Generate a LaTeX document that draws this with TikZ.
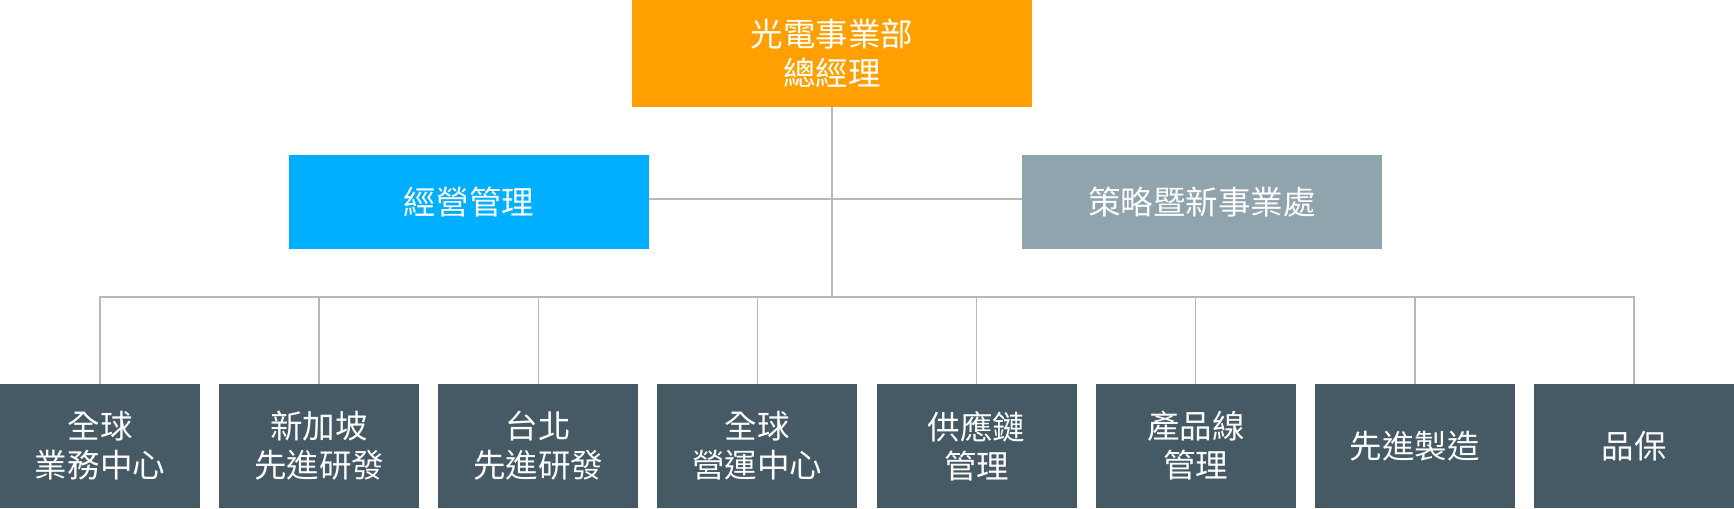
\documentclass[tikz,border=0pt]{standalone}
\usepackage{fontspec}
\newfontfamily\cjk{Noto Sans CJK TC}
\usepackage{xcolor}
\usepackage{tikz}
\usetikzlibrary{positioning, calc}
\definecolor{org-amber}{HTML}{FFA000}
\definecolor{org-blue}{HTML}{00B0FF}
\definecolor{org-grey}{HTML}{90A4AE}
\definecolor{org-slate}{HTML}{455A64}
\definecolor{org-line}{HTML}{B8B8B8}

\begin{document}
\begin{tikzpicture}[
    unit/.style={text=white, align=center, inner sep=0pt, outer sep=0pt, font=\cjk\fontsize{18.5}{22.2}\selectfont},
    head/.style={unit, fill=org-amber, minimum width=8cm, minimum height=2.14cm},
    staff/.style={unit, minimum width=7.2cm, minimum height=1.88cm},
    dept/.style={unit, fill=org-slate, minimum width=4cm, minimum height=2.48cm},
    link/.style={draw=org-line, line width=0.8pt}
]
    \useasboundingbox (0,0) rectangle (34.68,-10.16);

    \node (gm) [head] at (16.64,-1.07) {光電事業部\\總經理};
    \node (mgmt) [staff, fill=org-blue] at (9.38,-4.04) {經營管理};
    \node (strat) [staff, fill=org-grey] at (24.04,-4.04) {策略暨新事業處};

    \node (sales) [dept] at (2.0,-8.92) {全球\\業務中心};
    \node (sgrd) [dept, right=0.383cm of sales] {新加坡\\先進研發};
    \node (twrd) [dept, right=0.383cm of sgrd] {台北\\先進研發};
    \node (ops) [dept, right=0.383cm of twrd] {全球\\營運中心};
    \node (scm) [dept, right=0.383cm of ops] {供應鏈\\管理};
    \node (pline) [dept, right=0.383cm of scm] {產品線\\管理};
    \node (mfg) [dept, right=0.383cm of pline] {先進製造};
    \node (qa) [dept, right=0.383cm of mfg] {品保};

    \coordinate (bus) at (gm.south |- 0,-5.94);

    \draw [link] ([yshift=0.06cm]mgmt.east) -- ([yshift=0.06cm]strat.west);
    \draw [link] (gm) -- (bus);
    \draw [link] (bus) -| (sales);
    \draw [link] (bus) -| (sgrd);
    \draw [link] (bus) -| (twrd);
    \draw [link] (bus) -| (ops);
    \draw [link] (bus) -| (scm);
    \draw [link] (bus) -| (pline);
    \draw [link] (bus) -| (mfg);
    \draw [link] (bus) -| (qa);
\end{tikzpicture}
\end{document}
